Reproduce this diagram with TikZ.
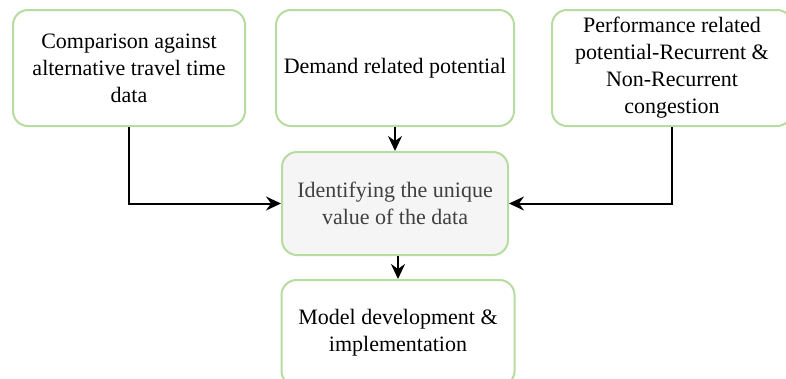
\documentclass[tikz,border=0pt]{standalone}
\usepackage{fontspec}
\setmainfont{Liberation Serif}
\newfontfamily\boxfont{Liberation Serif}
\usetikzlibrary{arrows.meta}
\definecolor{boxgreen}{RGB}{182,220,160}
\definecolor{centerfill}{RGB}{245,245,245}
\definecolor{centertext}{RGB}{64,64,64}
\tikzset{
  box/.style={draw=boxgreen, line width=2pt, rounded corners=15pt, fill=white,
    align=center, inner sep=0pt, font=\boxfont\fontsize{22}{27}\selectfont},
  conn/.style={line width=2pt, -{Stealth[length=15pt,width=14pt,inset=5pt]}}
}
\begin{document}
\begin{tikzpicture}[x=1pt,y=-1pt]
\useasboundingbox (0,0) rectangle (786,378);
\clip (0,0) rectangle (786,378);
\fill[white] (0,0) rectangle (786,378);
\node[box, minimum width=232pt, minimum height=116pt] (b1) at (129,68)
  {Comparison against\\alternative travel time\\data};
\node[box, minimum width=238pt, minimum height=116pt] (b2) at (395,68)
  {Demand related potential};
\node[box, minimum width=240pt, minimum height=116pt] (b3) at (672,68)
  {Performance related\\potential-Recurrent \&\\Non-Recurrent\\congestion};
\node[box, fill=centerfill, text=centertext, minimum width=226pt, minimum height=103pt] (c) at (395,203.5)
  {Identifying the unique\\value of the data};
\node[box, minimum width=233pt, minimum height=106pt] (m) at (398,333)
  {Model development \&\\implementation};
\draw[conn] (b1.south) |- (c.west);
\draw[conn] (b3.south) |- (c.east);
\draw[conn] (b2.south) -- (c.north);
\draw[conn] (c.south -| m.north) -- (m.north);
\end{tikzpicture}
\end{document}
